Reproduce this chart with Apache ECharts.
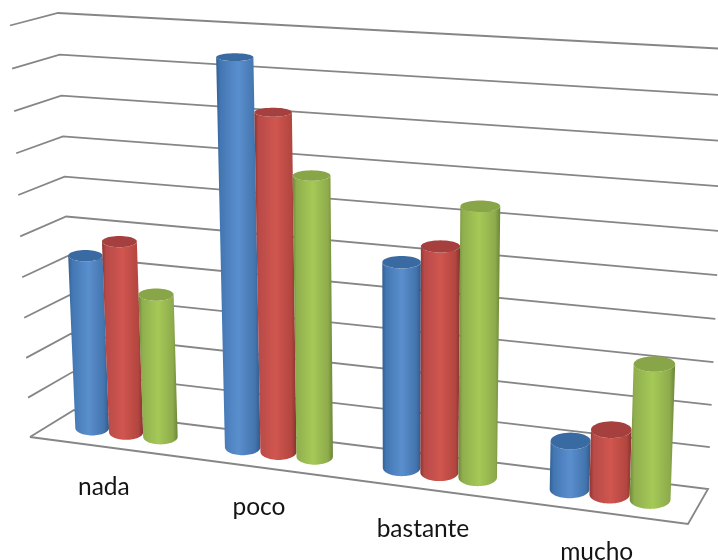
<!DOCTYPE html>
<html>
<head>
<meta charset="utf-8">
<style>html,body{margin:0;padding:0;background:#fff}#chart{width:718px;height:560px}</style>
<script src="https://cdn.jsdelivr.net/npm/echarts@6/dist/echarts.min.js"></script>
</head>
<body>
<div id="chart"></div>
<script>
// Category labels and the three cylinder series
const categories = ['nada', 'poco', 'bastante', 'mucho'];
const blueValues = [4.36, 9.38, 4.93, 1.15];
const redValues = [4.79, 8.17, 5.38, 1.53];
const greenValues = [3.57, 6.77, 6.38, 3.16];
const gridLevels = [0, 1, 2, 3, 4, 5, 6, 7, 8, 9, 10];

// Corners of the back wall and the front plane of the 3D box on screen
const backQuad = [[74, 410], [708, 489], [727, 49], [58, 13]];
const frontQuad = [[30, 437], [688, 524], [703, 65], [10, 25.5]];

// Unit square to quadrilateral perspective transform
function homography(q) {
  const [p0, p1, p2, p3] = q;
  const dx1 = p1[0] - p2[0], dx2 = p3[0] - p2[0], sx = p0[0] - p1[0] + p2[0] - p3[0];
  const dy1 = p1[1] - p2[1], dy2 = p3[1] - p2[1], sy = p0[1] - p1[1] + p2[1] - p3[1];
  const den = dx1 * dy2 - dx2 * dy1;
  const g = (sx * dy2 - dx2 * sy) / den, h = (dx1 * sy - sx * dy1) / den;
  const a = p1[0] - p0[0] + g * p1[0], b = p3[0] - p0[0] + h * p3[0];
  const d = p1[1] - p0[1] + g * p1[1], e = p3[1] - p0[1] + h * p3[1];
  return (u, v) => {
    const w = g * u + h * v + 1;
    return [(a * u + b * v + p0[0]) / w, (d * u + e * v + p0[1]) / w];
  };
}
const backPlane = homography(backQuad);
const frontPlane = homography(frontQuad);

// u: along the category axis, v: up the value axis, d: 0 at the back wall, 1 at the front
function project(u, v, d) {
  const b = backPlane(u, v), f = frontPlane(u, v);
  return [b[0] + (f[0] - b[0]) * d, b[1] + (f[1] - b[1]) * d];
}

// Axis scale to normalised box coordinates
function toBox(api, params, cat, val) {
  const cs = params.coordSys;
  const p = api.coord([cat, val]);
  return [(p[0] - cs.x) / cs.width, 1 - (p[1] - cs.y) / cs.height];
}

const BAR_FILL = 0.69;      // share of a category band covered by the three bars
const DEPTH_CENTER = 0.48;  // cylinder axis position across the floor depth
const DEPTH_RADIUS = 0.27;  // cylinder radius across the floor depth

function cylinderRenderer(pos, body, cap) {
  return function (params, api) {
    const cs = params.coordSys;
    const cat = api.value(0), val = api.value(1);
    const band = api.size([1, 0])[0] / cs.width;
    const barW = band * BAR_FILL / 3;
    const [u0] = toBox(api, params, cat, 0);
    const uc = u0 + (pos - 1) * barW;
    const vTop = toBox(api, params, cat, val)[1];
    const vBase = toBox(api, params, cat, 0)[1];
    // Level ellipse around the cylinder axis at height v
    const ring = (v, a0, a1, n) => {
      const c = project(uc, v, DEPTH_CENTER);
      const halfW = (project(uc + barW / 2, v, DEPTH_CENTER)[0] - project(uc - barW / 2, v, DEPTH_CENTER)[0]) / 2;
      const halfH = (project(uc, v, DEPTH_CENTER + DEPTH_RADIUS)[1] - project(uc, v, DEPTH_CENTER - DEPTH_RADIUS)[1]) / 2;
      const pts = [];
      for (let i = 0; i <= n; i++) {
        const t = a0 + (a1 - a0) * i / n;
        pts.push([c[0] + halfW * Math.cos(t), c[1] + halfH * Math.sin(t)]);
      }
      return pts;
    };
    const bottomNear = ring(vBase, Math.PI, 0, 32);
    const topNear = ring(vTop, 0, Math.PI, 32);
    return {
      type: 'group',
      children: [
        {
          type: 'polygon',
          shape: { points: bottomNear.concat(topNear) },
          style: {
            fill: {
              type: 'linear', x: 0, y: 0, x2: 1, y2: 0,
              colorStops: body.map((c, i) => ({ offset: [0, 0.1, 0.5, 0.88, 1][i], color: c }))
            }
          }
        },
        {
          type: 'polygon',
          shape: { points: ring(vTop, 0, Math.PI * 2, 48) },
          style: { fill: cap }
        }
      ]
    };
  };
}

function wallRenderer(params, api) {
  const level = api.value(0);
  const v = toBox(api, params, 0, level)[1];
  const style = { stroke: '#868686', lineWidth: 1.8, fill: null };
  const pts = [project(0, v, 1), project(0, v, 0), project(1, v, 0)];
  if (level === 0) pts.push(project(1, v, 1), project(0, v, 1));
  return { type: 'polyline', shape: { points: pts }, style };
}

function labelRenderer(params, api) {
  const i = params.dataIndex;
  const cs = params.coordSys;
  const u = (api.coord([i, 0])[0] - cs.x) / cs.width;
  const p = project(u, 0, 1);
  return {
    type: 'text',
    x: p[0] - 0.5,
    y: p[1] + 40,
    style: {
      text: categories[i],
      fill: '#141414',
      font: '24.5px Lato, "Open Sans", sans-serif',
      textAlign: 'center',
      textVerticalAlign: 'middle'
    }
  };
}

function barSeries(name, values, pos, body, cap) {
  return {
    name,
    type: 'custom',
    clip: false,
    z: 3 + pos,
    renderItem: cylinderRenderer(pos, body, cap),
    encode: { x: 0, y: 1 },
    data: values.map((v, i) => [i, v])
  };
}

const chart = echarts.init(document.getElementById('chart'), null, { renderer: 'canvas' });
chart.setOption({
  animation: false,
  tooltip: { show: false },
  grid: { left: 0, right: 0, top: 0, bottom: 0 },
  xAxis: { type: 'category', data: categories, show: false },
  yAxis: { type: 'value', min: 0, max: 10, interval: 1, show: false },
  series: [
    {
      type: 'custom', clip: false, z: 1,
      renderItem: wallRenderer,
      encode: { y: 0 },
      data: gridLevels.map(l => [l])
    },
    {
      type: 'custom', clip: false, z: 2,
      renderItem: labelRenderer,
      data: categories.map((c, i) => [i])
    },
    barSeries('azul', blueValues, 0, ['#335f92', '#4377b3', '#5a8fce', '#4374ad', '#31598a'], '#3a6aa2'),
    barSeries('rojo', redValues, 1, ['#8c3532', '#b84a48', '#d0564f', '#b3463f', '#853230'], '#a5403e'),
    barSeries('verde', greenValues, 2, ['#6e893a', '#90ae4e', '#a5c957', '#8eab4c', '#6b8438'], '#88a548')
  ]
});
</script>
</body>
</html>
